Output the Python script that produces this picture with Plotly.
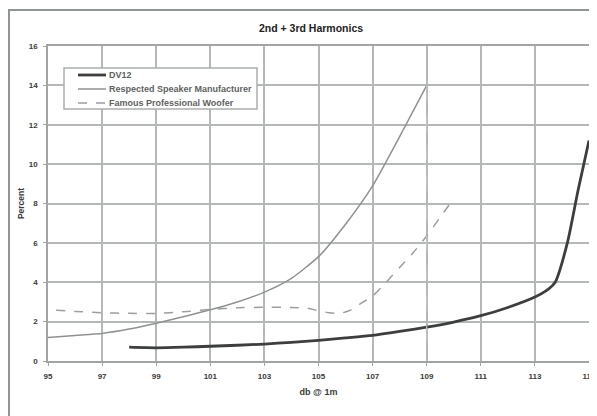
import plotly.graph_objects as go

# ---- data ----
dv12_x = [98, 99, 100, 101, 102, 103, 104, 105, 106, 107, 108, 109, 110, 111, 112, 113, 113.5, 113.75, 114.2, 114.6, 115]
dv12_y = [0.7, 0.67, 0.7, 0.75, 0.8, 0.86, 0.95, 1.05, 1.17, 1.3, 1.5, 1.72, 1.98, 2.3, 2.72, 3.25, 3.65, 4.0, 6.0, 8.7, 11.2]

resp_x = [95, 96, 97, 98, 99, 100, 101, 102, 103, 104, 105, 106, 107, 108, 109]
resp_y = [1.2, 1.3, 1.4, 1.62, 1.92, 2.25, 2.6, 3.0, 3.5, 4.2, 5.3, 6.95, 8.9, 11.4, 14.0]

famous_x = [95.3, 96, 97, 98, 99, 100, 101, 102, 103, 104, 104.6, 105, 105.4, 105.8, 106.2, 106.6, 107, 107.5, 108, 108.5, 109, 109.5, 110]
famous_y = [2.58, 2.52, 2.45, 2.42, 2.42, 2.5, 2.62, 2.7, 2.73, 2.72, 2.68, 2.55, 2.45, 2.42, 2.6, 2.95, 3.3, 4.0, 4.75, 5.5, 6.35, 7.3, 8.25]

drop_x = [109, 109]
drop_y = [14.0, 1.0]

series_names = ["DV12", "Respected Speaker Manufacturer", "Famous Professional Woofer"]

x_ticks = [95, 97, 99, 101, 103, 105, 107, 109, 111, 113, 115]
y_ticks = [0, 2, 4, 6, 8, 10, 12, 14, 16]

FONT = "Liberation Sans"
TXT = "#3a3a3a"
GRID = "#b4b9b8"
AXC = "#a0a5a4"

styles = [
    dict(color="#3c3f3e", width=2.8),
    dict(color="#8e9392", width=1.5),
    dict(color="#9a9f9e", width=1.5, dash="dash"),
]

fig = go.Figure()
for xs, ys, name, st in zip([dv12_x, resp_x, famous_x], [dv12_y, resp_y, famous_y], series_names, styles):
    fig.add_trace(go.Scatter(x=xs, y=ys, mode="lines", name=name,
                             line=dict(shape="spline", smoothing=0.6, **st)))
fig.add_trace(go.Scatter(x=drop_x, y=drop_y, mode="lines", showlegend=False, hoverinfo="skip",
                         line=dict(color="#bfc3c2", width=1.3, dash="longdash")))

# plot area in the page: x 48..589, y 46..361 (page has 8px body offset)
def px(page_x):
    return (page_x - 48) / 541

def py(page_y):
    return (361 - page_y) / 315

fig.update_layout(
    width=597, height=416,
    margin=dict(l=40, r=16, t=38, b=63),
    paper_bgcolor="white", plot_bgcolor="white",
    font=dict(family=FONT, size=8, color=TXT, weight="bold"),
    title=dict(text="2nd + 3rd Harmonics", x=px(311), xref="paper", xanchor="center",
               y=1 - 20 / 416, yref="container", yanchor="middle",
               font=dict(family=FONT, size=10.5, color="#222", weight="bold")),
    showlegend=False,
    xaxis=dict(range=[95, 115], tickmode="array", tickvals=x_ticks, ticktext=[str(v) for v in x_ticks],
               showgrid=True, gridcolor=GRID, gridwidth=1.5, zeroline=False,
               showline=True, linecolor=AXC, linewidth=1.5, mirror=True,
               ticks="outside", ticklen=3, tickcolor=AXC, ticklabelstandoff=4, automargin=False,
               title=dict(text="db @ 1m", font=dict(family=FONT, size=9, color=TXT, weight="bold"), standoff=8)),
    yaxis=dict(range=[0, 16], tickmode="array", tickvals=y_ticks,
               showgrid=True, gridcolor=GRID, gridwidth=1.5, zeroline=False,
               showline=True, linecolor=AXC, linewidth=1.5, mirror=True,
               ticks="outside", ticklen=3, tickcolor=AXC, ticklabelstandoff=4, automargin=False,
               title=dict(text="Percent", font=dict(family=FONT, size=8.5, color=TXT, weight="bold"), standoff=3)),
)

# outer chart frame
fig.add_shape(type="rect", xref="paper", yref="paper",
              x0=px(9), x1=1.2, y0=-0.3, y1=py(10),
              line=dict(color="#8f9594", width=2), layer="below")

# legend box (drawn to match compact original legend)
fig.add_shape(type="rect", xref="paper", yref="paper",
              x0=px(64), x1=px(257), y0=py(109), y1=py(68),
              line=dict(color="#a9aead", width=1.5), fillcolor="white", layer="above")
leg_rows = [75, 89, 103]
for name, st, ry in zip(series_names, styles, leg_rows):
    fig.add_shape(type="line", xref="paper", yref="paper",
                  x0=px(78), x1=px(106), y0=py(ry), y1=py(ry),
                  line=st, layer="above")
    fig.add_annotation(text=name, xref="paper", yref="paper", x=px(107), y=py(ry),
                       xanchor="left", yanchor="middle", showarrow=False,
                       font=dict(family=FONT, size=9, color="#5e6261", weight="bold"))

fig.write_html("out.html")
